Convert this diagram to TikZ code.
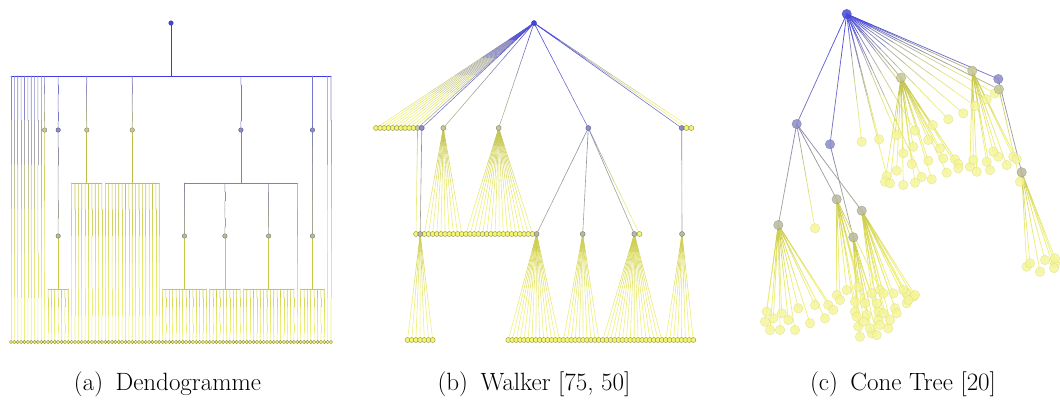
\documentclass[tikz,border=0pt]{standalone}
\usetikzlibrary{calc,backgrounds}
\definecolor{cB}{RGB}{60,60,230}
\definecolor{cBl}{RGB}{115,115,215}
\definecolor{uP}{RGB}{120,120,200}
\definecolor{dP}{RGB}{130,130,175}
\definecolor{uO}{RGB}{180,180,140}
\definecolor{dO}{RGB}{190,190,75}
\definecolor{uG}{RGB}{165,165,150}
\definecolor{dG}{RGB}{200,200,70}
\definecolor{cL}{RGB}{240,240,125}
\definecolor{nBf}{RGB}{70,70,215}
\definecolor{nBd}{RGB}{50,50,160}
\definecolor{nPf}{RGB}{140,140,200}
\definecolor{nPd}{RGB}{90,90,140}
\definecolor{nOf}{RGB}{200,200,150}
\definecolor{nOd}{RGB}{130,130,100}
\definecolor{nGf}{RGB}{185,185,160}
\definecolor{nGd}{RGB}{120,120,105}
\definecolor{nLf}{RGB}{245,245,110}
\definecolor{nLd}{RGB}{140,140,80}
\definecolor{cLf}{RGB}{245,245,150}
\definecolor{cLd}{RGB}{215,215,120}
\tikzset{
 edge/.style={line width=0.6pt, line cap=round},
 nd/.style={circle, inner sep=0pt, line width=0.4pt},
 rootn/.style={nd, fill=nBf, draw=nBd},
 purn/.style={nd, fill=nPf, draw=nPd},
 olin/.style={nd, fill=nOf, draw=nOd},
 grayn/.style={nd, fill=nGf, draw=nGd},
 leafn/.style={nd, fill=nLf, draw=nLd},
 dsz/.style={minimum size=4.5pt},
 lsz/.style={minimum size=3.4pt},
 wsz/.style={minimum size=5pt},
 csz/.style={minimum size=9.5pt, fill opacity=0.85, draw opacity=0.5},
 cleaf/.style={nd, minimum size=9.5pt, fill=cLf, draw=cLd, fill opacity=0.8, draw opacity=0.6},
 captxt/.style={font=\fontsize{25}{30}\selectfont, inner sep=0pt}
}
\newcommand\gline[4]{%
 \foreach \k in {0,...,5}{%
  \pgfmathsetmacro\ga{\k/6}%
  \pgfmathsetmacro\gb{(\k+1)/6}%
  \pgfmathtruncatemacro\gp{100*(1-(\k+0.5)/6)^2}%
  \draw[edge,color=#3!\gp!#4] ($(#1)!\ga!(#2)$) -- ($(#1)!\gb!(#2)$);}}
\newcommand\dgroup[4]{%
 \coordinate (#1b) at ($(#1)+(0,53)$);
 \draw[edge,#4] (#1.center) -- (#1b);
 \draw[edge,#4] (d#2 |- #1b) -- (d#3 |- #1b);
 \foreach \i in {#2,...,#3}{\gline{d\i |- #1b}{d\i}{#4}{cL}}}
\begin{document}
\begin{tikzpicture}[x=1pt,y=-1pt]
\useasboundingbox (0,0) rectangle (1060,399);
% ===== (a) dendrogram =====
\foreach \i in {0,...,95}{\node[leafn,lsz] (d\i) at ({11+\i*3.3684},342) {};}
\node[rootn,dsz] (dR) at (171,23) {};
\node[olin,dsz] (dO1) at ({11+10*3.3684},130) {};
\node[purn,dsz] (dP1) at ({11+14*3.3684},130) {};
\node[grayn,dsz] (dG1) at ({11+14*3.3684},236) {};
\node[olin,dsz] (dO2) at ({11+22.5*3.3684},130) {};
\node[olin,dsz] (dO3) at ({11+36*3.3684},130) {};
\node[purn,dsz] (dP2) at ({11+68.25*3.3684},130) {};
\node[grayn,dsz] (dG2) at ({11+51.5*3.3684},236) {};
\node[grayn,dsz] (dG3) at ({11+63.5*3.3684},236) {};
\node[grayn,dsz] (dG4) at ({11+76.5*3.3684},236) {};
\node[purn,dsz] (dP3) at ({11+89.5*3.3684},130) {};
\node[grayn,dsz] (dG5) at ({11+89.5*3.3684},236) {};
\coordinate (dRb) at (171,76);
\coordinate (dP2b) at ($(dP2)+(0,53)$);
\begin{pgfonlayer}{background}
\draw[edge,cB,line width=1pt] (dR.center) -- (dRb);
\draw[edge,cB] (d0 |- dRb) -- (d95 |- dRb);
\foreach \i in {0,...,9}{\gline{d\i |- dRb}{d\i}{cBl}{cL}}
\foreach \i in {94,95}{\gline{d\i |- dRb}{d\i}{cBl}{cL}}
\gline{dO1 |- dRb}{dO1}{cBl}{uO}
\gline{dP1 |- dRb}{dP1}{cBl}{uP}
\gline{dO2 |- dRb}{dO2}{cBl}{uO}
\gline{dO3 |- dRb}{dO3}{cBl}{uO}
\gline{dP2 |- dRb}{dP2}{cBl}{uP}
\gline{dP3 |- dRb}{dP3}{cBl}{uP}
\gline{dO1}{d10}{dO}{cL}
\gline{dP1}{dG1}{dP}{uG}
\dgroup{dG1}{11}{17}{dG}
\dgroup{dO2}{18}{27}{dO}
\dgroup{dO3}{28}{44}{dO}
\draw[edge,dP] (dP2.center) -- (dP2b);
\draw[edge,dP] (dG2 |- dP2b) -- (d85 |- dP2b);
\gline{dG2 |- dP2b}{dG2}{dP}{uG}
\gline{dG3 |- dP2b}{dG3}{dP}{uG}
\gline{dG4 |- dP2b}{dG4}{dP}{uG}
\gline{d85 |- dP2b}{d85}{dP}{cL}
\dgroup{dG2}{45}{58}{dG}
\dgroup{dG3}{59}{68}{dG}
\dgroup{dG4}{69}{84}{dG}
\gline{dP3}{dG5}{dP}{uG}
\dgroup{dG5}{86}{93}{dG}
\end{pgfonlayer}
% ===== (b) Walker =====
\node[rootn,wsz] (wR) at (534,23) {};
\foreach \i in {0,...,9}{\node[leafn,wsz] (wa\i) at ({376+\i*4.16},128) {};}
\node[olin,wsz] (wO1) at (417.6,128) {};
\node[purn,wsz] (wP1) at (421.8,128) {};
\node[olin,wsz] (wO2) at (443.3,128) {};
\node[olin,wsz] (wO3) at (498.7,128) {};
\node[purn,wsz] (wP2) at (588.3,128) {};
\node[purn,wsz] (wP3) at (681.7,128) {};
\node[leafn,wsz] (wa10) at (686.5,128) {};
\node[leafn,wsz] (wa11) at (691.3,128) {};
\node[leafn,wsz] (wb0) at (416,234) {};
\foreach \i in {2,...,28}{\node[leafn,wsz] (wb\i) at ({416+\i*4.16},234) {};}
\node[grayn,wsz] (wG1) at (420.2,234) {};
\node[grayn,wsz] (wG2) at (536.6,234) {};
\node[grayn,wsz] (wG3) at (582.7,234) {};
\node[grayn,wsz] (wG4) at (634.3,234) {};
\node[leafn,wsz] (wb30) at (639.5,234) {};
\node[grayn,wsz] (wG5) at (682,234) {};
\foreach \i in {0,...,6}{\node[leafn,wsz] (wc\i) at ({407.5+\i*4.2},340) {};}
\foreach \i in {7,...,54}{\node[leafn,wsz] (wc\i) at ({508.3+(\i-7)*3.936},340) {};}
\begin{pgfonlayer}{background}
\foreach \i in {0,...,11}{\gline{wR}{wa\i}{cB}{cL}}
\gline{wR}{wO1}{cB}{uO}
\gline{wR}{wP1}{cB}{uP}
\gline{wR}{wO2}{cB}{uO}
\gline{wR}{wO3}{cB}{uO}
\gline{wR}{wP2}{cB}{uP}
\gline{wR}{wP3}{cB}{uP}
\gline{wO1}{wb0}{dO}{cL}
\gline{wP1}{wG1}{dP}{uG}
\foreach \i in {2,...,11}{\gline{wO2}{wb\i}{dO}{cL}}
\foreach \i in {12,...,28}{\gline{wO3}{wb\i}{dO}{cL}}
\gline{wP2}{wG2}{dP}{uG}
\gline{wP2}{wG3}{dP}{uG}
\gline{wP2}{wG4}{dP}{uG}
\gline{wP2}{wb30}{dP}{cL}
\gline{wP3}{wG5}{dP}{uG}
\foreach \i in {0,...,6}{\gline{wG1}{wc\i}{dG}{cL}}
\foreach \i in {7,...,20}{\gline{wG2}{wc\i}{dG}{cL}}
\foreach \i in {21,...,30}{\gline{wG3}{wc\i}{dG}{cL}}
\foreach \i in {31,...,46}{\gline{wG4}{wc\i}{dG}{cL}}
\foreach \i in {47,...,54}{\gline{wG5}{wc\i}{dG}{cL}}
\end{pgfonlayer}
% ===== (c) Cone tree =====
\foreach \p [count=\n] in {{861.7,141.7},{879,139.3},{896.7,135},{915,130.7},{932.7,125},{948.3,119.3},{963.3,113.3},{975,106},{986.7,99.3},{995,93.3},{886.7,176},{921.7,177}}{\node[cleaf] (cr\n) at (\p) {};}
\foreach \p [count=\n] in {{911.7,164},{928.3,160.7},{943.3,158.3},{955,159.3},{958.3,164},{958.3,168.3},{896.7,170.7},{885,181.7},{890,183.3},{915,182.7},{931.7,179.3},{946.7,172.7},{913.3,146.7},{928.3,140},{940,148.3},{903.3,153.3},{903.3,185}}{\node[cleaf] (cc\n) at (\p) {};}
\foreach \p [count=\n] in {{970,166.7},{976.7,171.7},{990,170},{998.3,156.7},{1006.7,165},{1013.3,156.7},{1016.7,159.3},{973.3,160},{986.7,161.7},{993.3,151.7}}{\node[cleaf] (cd\n) at (\p) {};}
\foreach \p [count=\n] in {{766.7,311.7},{765,321.7},{770,330},{780,330},{781.7,313.3},{795,330},{798.3,308.3},{810,323.3},{815,305},{825,318.3},{828.3,305},{833.3,310},{773.3,318.3},{788.3,320}}{\node[cleaf] (cg\n) at (\p) {};}
\foreach \p [count=\n] in {{836.7,295},{846.7,290},{858.3,286.7},{855,301.7},{865,303.3},{855,311.7},{866.7,315},{878.3,311.7},{880,290},{840,300}}{\node[cleaf] (ch\n) at (\p) {};}
\foreach \p [count=\n] in {{893.3,293.3},{906.7,293.3},{913.3,296.7},{895,308.3},{906.7,303.3},{876.7,303.3},{878.3,320},{888.3,328.3},{890,320},{908.3,300},{903.3,290},{883.3,293.3},{871.7,293.3},{915,295},{896.7,313.3},{883.3,313.3}}{\node[cleaf] (ci\n) at (\p) {};}
\foreach \p [count=\n] in {{858.3,326.7},{860,336.7},{871.7,333.3},{880,325},{863.3,321.7},{870,328.3},{856.7,316.7},{876.7,335}}{\node[cleaf] (cj\n) at (\p) {};}
\foreach \p [count=\n] in {{1026.7,266.7},{1030,263.3},{1040,271.7},{1045,260},{1055,263.3},{1055,258.3},{1054,268}}{\node[cleaf] (ck\n) at (\p) {};}
\node[cleaf] (cAl) at (815,228.3) {};
\node[cleaf] (cOl) at (1020,181.7) {};
\node[rootn,csz] (cR) at (846.7,14) {};
\node[purn,csz] (cA) at (796.7,124) {};
\node[purn,csz] (cPb) at (830,144.3) {};
\node[olin,csz] (cC) at (901,77.7) {};
\node[olin,csz] (cD) at (972.3,70.7) {};
\node[olin,csz] (cO1) at (999,89.3) {};
\node[purn,csz] (cE) at (998.3,79) {};
\node[grayn,csz] (cG1) at (778.3,225) {};
\node[grayn,csz] (cG2) at (836.7,199.3) {};
\node[grayn,csz] (cG3) at (861.7,210.7) {};
\node[grayn,csz] (cG4) at (853.3,237.3) {};
\node[grayn,csz] (cG5) at (1021.7,172.3) {};
\begin{pgfonlayer}{background}
\begin{scope}[edge/.append style={line width=0.75pt}]
\foreach \n in {1,...,12}{\gline{cR}{cr\n}{cB}{cL}}
\gline{cR}{cA}{cB}{uP}
\gline{cR}{cPb}{cB}{uP}
\gline{cR}{cC}{cB}{uO}
\gline{cR}{cD}{cB}{uO}
\gline{cR}{cE}{cB}{uP}
\gline{cR}{cO1}{cB}{uO}
\gline{cO1}{cOl}{dO}{cL}
\foreach \n in {1,...,17}{\gline{cC}{cc\n}{dO}{cL}}
\foreach \n in {1,...,10}{\gline{cD}{cd\n}{dO}{cL}}
\gline{cA}{cG1}{dP}{uG}
\gline{cA}{cG2}{dP}{uG}
\gline{cA}{cG3}{dP}{uG}
\gline{cA}{cAl}{dP}{cL}
\gline{cPb}{cG4}{dP}{uG}
\gline{cE}{cG5}{dP}{uG}
\foreach \n in {1,...,14}{\gline{cG1}{cg\n}{dG}{cL}}
\foreach \n in {1,...,10}{\gline{cG2}{ch\n}{dG}{cL}}
\foreach \n in {1,...,16}{\gline{cG3}{ci\n}{dG}{cL}}
\foreach \n in {1,...,8}{\gline{cG4}{cj\n}{dG}{cL}}
\foreach \n in {1,...,7}{\gline{cG5}{ck\n}{dG}{cL}}
\end{scope}
\end{pgfonlayer}
% ===== captions =====
\node[captxt,anchor=base] (capa) at (167.5,390) {(a)\enskip Dendogramme};
\node[captxt,anchor=base] (capb) at (534,390) {(b)\enskip Walker [75, 50]};
\node[captxt,anchor=base] (capc) at (903,390) {(c)\enskip Cone Tree [20]};
\end{tikzpicture}
\end{document}
